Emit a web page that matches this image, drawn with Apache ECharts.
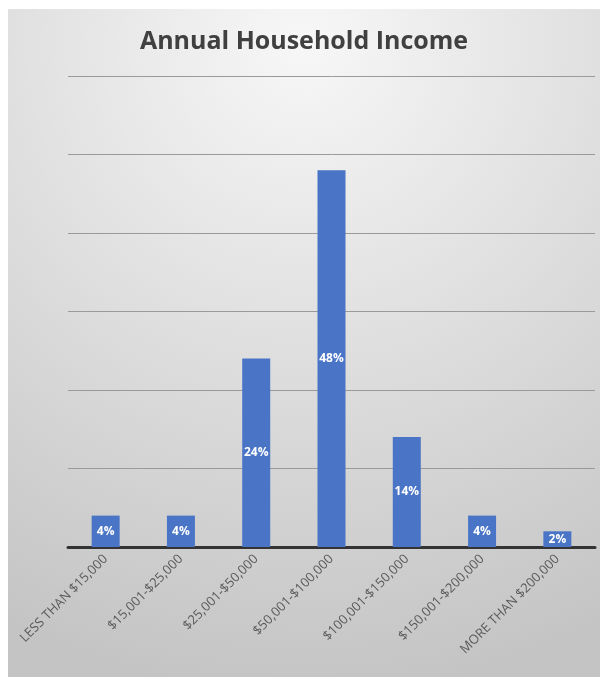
<!DOCTYPE html>
<html>
<head>
<meta charset="utf-8">
<script src="https://cdn.jsdelivr.net/npm/echarts@6/dist/echarts.min.js"></script>
<style>
	html, body { margin: 0; padding: 0; background: #fff; }
	#chart { position: absolute; left: 8px; top: 9px; width: 592px; height: 668px; }
</style>
</head>
<body>
<div id="chart"></div>
<script>
const categories = [
	'LESS THAN $15,000',
	'$15,001-$25,000',
	'$25,001-$50,000',
	'$50,001-$100,000',
	'$100,001-$150,000',
	'$150,001-$200,000',
	'MORE THAN $200,000',
]
const shares = [4, 4, 24, 48, 14, 4, 2]

const chart = echarts.init(document.getElementById('chart'))

chart.setOption({
	backgroundColor: new echarts.graphic.RadialGradient(0.5, 0.05, 1.1, [
		{ offset: 0, color: '#f7f7f7' },
		{ offset: 1, color: '#c4c4c4' },
	]),
	title: {
		text: 'Annual Household Income',
		left: 'center',
		top: 15,
		textStyle: { fontFamily: 'Open Sans', fontSize: 25, fontWeight: 'bold', color: '#404040' },
	},
	grid: { left: 60, right: 5, top: 67, bottom: 130 },
	xAxis: {
		type: 'category',
		data: categories,
		axisLine: { lineStyle: { color: '#333', width: 3 } },
		axisTick: { show: false },
		axisLabel: {
			interval: 0,
			rotate: 45,
			margin: 10,
			fontFamily: 'Open Sans',
			fontSize: 13,
			color: '#595959',
		},
	},
	yAxis: {
		type: 'value',
		min: 0,
		max: 60,
		interval: 10,
		axisLabel: { show: false },
		axisLine: { show: false },
		axisTick: { show: false },
		splitLine: { lineStyle: { color: '#9a9a9a', width: 1 } },
	},
	series: [
		{
			type: 'bar',
			data: shares,
			barWidth: 28,
			itemStyle: { color: '#4a75c6' },
			label: {
				show: true,
				position: 'inside',
				formatter: '{c}%',
				color: '#fff',
				fontFamily: 'Open Sans',
				fontWeight: 'bold',
				fontSize: 12,
			},
		},
	],
})
</script>
</body>
</html>
